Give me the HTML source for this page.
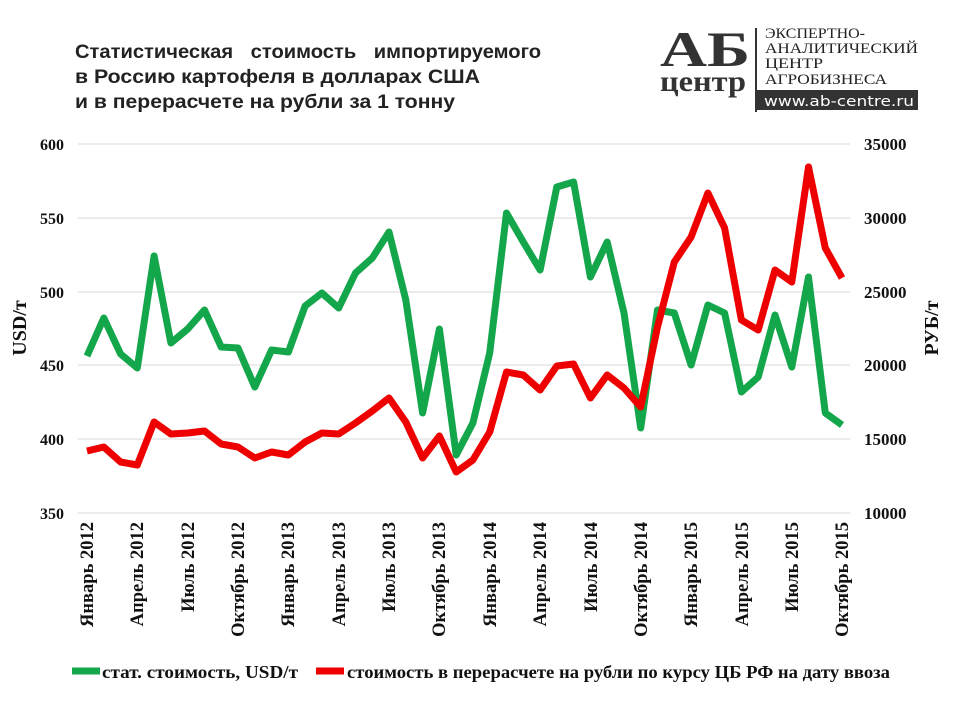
<!DOCTYPE html>
<html><head><meta charset="utf-8"><style>
body{margin:0;background:#fff;width:960px;height:720px;overflow:hidden}
</style></head><body>
<svg width="960" height="720" xmlns="http://www.w3.org/2000/svg">
<g font-family="Liberation Sans, sans-serif" font-weight="bold" font-size="19" fill="#222">
<text x="75" y="58" xml:space="preserve" word-spacing="3" textLength="466" lengthAdjust="spacingAndGlyphs">Статистическая  стоимость  импортируемого</text>
<text x="75" y="83" textLength="405" lengthAdjust="spacingAndGlyphs">в Россию картофеля в долларах США</text>
<text x="75" y="108" textLength="380" lengthAdjust="spacingAndGlyphs">и в перерасчете на рубли за 1 тонну</text>
</g>
<g font-family="Liberation Serif, serif" font-weight="bold" fill="#333">
<text x="705" y="66" font-size="50" text-anchor="middle" textLength="90" lengthAdjust="spacingAndGlyphs">АБ</text>
<text x="703" y="91" font-size="30" text-anchor="middle" textLength="86" lengthAdjust="spacingAndGlyphs">центр</text>
</g>
<rect x="755" y="28" width="2" height="84" fill="#333"/>
<g font-family="Liberation Serif, serif" font-size="14.5" fill="#222">
<text x="765" y="38" textLength="100" lengthAdjust="spacingAndGlyphs">ЭКСПЕРТНО-</text>
<text x="765" y="53" textLength="153" lengthAdjust="spacingAndGlyphs">АНАЛИТИЧЕСКИЙ</text>
<text x="765" y="68" textLength="58" lengthAdjust="spacingAndGlyphs">ЦЕНТР</text>
<text x="765" y="84" textLength="122" lengthAdjust="spacingAndGlyphs">АГРОБИЗНЕСА</text>
</g>
<rect x="757" y="90" width="161" height="20" fill="#333"/>
<text x="764" y="106" font-family="DejaVu Sans, sans-serif" font-size="14" fill="#fff" textLength="150" lengthAdjust="spacingAndGlyphs">www.ab-centre.ru</text>
<g stroke="#d9d9d9" stroke-width="1">
<line x1="78" x2="850" y1="144" y2="144"/><line x1="78" x2="850" y1="218" y2="218"/>
<line x1="78" x2="850" y1="292" y2="292"/><line x1="78" x2="850" y1="365" y2="365"/>
<line x1="78" x2="850" y1="439" y2="439"/><line x1="78" x2="850" y1="513" y2="513"/>
</g>
<g font-family="Liberation Serif, serif" font-weight="bold" font-size="16" fill="#111">
<g text-anchor="end">
<text x="64" y="150">600</text><text x="64" y="224">550</text><text x="64" y="298">500</text>
<text x="64" y="371">450</text><text x="64" y="445">400</text><text x="64" y="519">350</text>
</g>
<g font-size="17">
<text x="864" y="150">35000</text><text x="864" y="224">30000</text><text x="864" y="298">25000</text>
<text x="864" y="371">20000</text><text x="864" y="445">15000</text><text x="864" y="519">10000</text>
</g>
<text transform="translate(26,328) rotate(-90)" text-anchor="middle" font-size="20">USD/т</text>
<text transform="translate(938,328) rotate(-90)" text-anchor="middle" font-size="20">РУБ/т</text>
<g text-anchor="end" font-size="18.5">
<text transform="translate(93,522) rotate(-90)">Январь 2012</text>
<text transform="translate(143,522) rotate(-90)">Апрель 2012</text>
<text transform="translate(194,522) rotate(-90)">Июль 2012</text>
<text transform="translate(244,522) rotate(-90)">Октябрь 2012</text>
<text transform="translate(294,522) rotate(-90)">Январь 2013</text>
<text transform="translate(345,522) rotate(-90)">Апрель 2013</text>
<text transform="translate(395,522) rotate(-90)">Июль 2013</text>
<text transform="translate(445,522) rotate(-90)">Октябрь 2013</text>
<text transform="translate(496,522) rotate(-90)">Январь 2014</text>
<text transform="translate(546,522) rotate(-90)">Апрель 2014</text>
<text transform="translate(597,522) rotate(-90)">Июль 2014</text>
<text transform="translate(647,522) rotate(-90)">Октябрь 2014</text>
<text transform="translate(697,522) rotate(-90)">Январь 2015</text>
<text transform="translate(748,522) rotate(-90)">Апрель 2015</text>
<text transform="translate(798,522) rotate(-90)">Июль 2015</text>
<text transform="translate(848,522) rotate(-90)">Октябрь 2015</text>
</g>
<text x="102" y="678" font-size="18" textLength="196" lengthAdjust="spacingAndGlyphs">стат. стоимость, USD/т</text>
<text x="347" y="678" font-size="18" textLength="543" lengthAdjust="spacingAndGlyphs">стоимость в перерасчете на рубли по курсу ЦБ РФ на дату ввоза</text>
</g>
<line x1="72" x2="100" y1="671" y2="671" stroke="#14a64a" stroke-width="7"/>
<line x1="316" x2="344" y1="671" y2="671" stroke="#ee0000" stroke-width="7"/>
<polyline fill="none" stroke="#14a64a" stroke-width="7" stroke-linejoin="round" points="87,356 103.8,318 120.6,354 137.3,368 154.1,256 170.9,343 187.7,329 204.5,310 221.2,347 238,348 254.8,387 271.6,350 288.4,352 305.1,306 321.9,293 338.7,308 355.5,273 372.3,258 389,232 405.8,300 422.6,413 439.4,329 456.2,455 472.9,423 489.7,353 506.5,213 523.3,242 540.1,270 556.8,187 573.6,182 590.4,277 607.2,242 624,313 640.7,428 657.5,310 674.3,313 691.1,365 707.9,305 724.6,313 741.4,392 758.2,377 775,315 791.8,367 808.5,277 825.3,413 842,425"/>
<polyline fill="none" stroke="#ee0000" stroke-width="7" stroke-linejoin="round" points="87,451 103.8,447 120.6,462 137.3,465 154.1,422 170.9,434 187.7,433 204.5,431 221.2,444 238,447 254.8,458 271.6,452 288.4,455 305.1,442 321.9,433 338.7,434 355.5,423 372.3,411 389,398 405.8,422 422.6,458 439.4,436 456.2,472 472.9,460 489.7,432 506.5,372 523.3,375 540.1,390 556.8,366 573.6,364 590.4,398 607.2,375 624,388 640.7,407 657.5,327 674.3,262 691.1,237 707.9,193 724.6,228 741.4,320 758.2,330 775,270 791.8,282 808.5,167 825.3,248 842,278"/>
</svg>
</body></html>
